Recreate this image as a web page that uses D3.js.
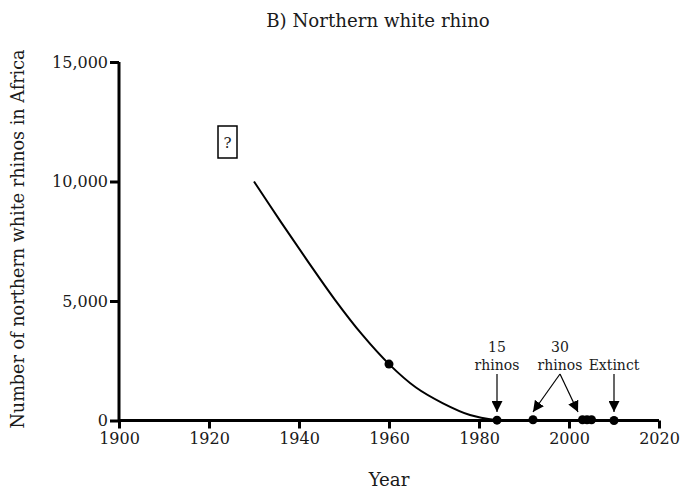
<!DOCTYPE html>
<html>
<head>
<meta charset="utf-8">
<script src="https://cdn.jsdelivr.net/npm/d3@7"></script>
<style>
  body { margin: 0; background: #fff; }
  svg { font-family: "DejaVu Serif", "Liberation Serif", serif; }
</style>
</head>
<body>
<div id="chart"></div>
<script>
// data
var curveYears  = [1930, 1936, 1942, 1948, 1954, 1960, 1966, 1972, 1978, 1984];
var curveValues = [10000, 8300, 6650, 5050, 3600, 2360, 1380, 720, 230, 15];

var dotYears  = [1960, 1984, 1992, 2003, 2004, 2005, 2010];
var dotValues = [2360, 15, 30, 30, 30, 30, 0];

var xTicks = [1900, 1920, 1940, 1960, 1980, 2000, 2020];
var yTicks = [0, 5000, 10000, 15000];

// annotations: label lines, where text sits, arrow targets
var noteLabels = [["15", "rhinos"], ["30", "rhinos"], ["Extinct"]];
var noteYears  = [1984, 1998, 2010];
var noteTargets = [[1984], [1992, 2002], [2010]];

var W = 683, H = 495;
var svg = d3.select("#chart").append("svg")
    .attr("width", W)
    .attr("height", H);

var x = d3.scaleLinear().domain([1900, 2020]).range([119, 659]);
var y = d3.scaleLinear().domain([0, 15000]).range([420.5, 62]);

// arrow head
svg.append("defs").append("marker")
    .attr("id", "head")
    .attr("viewBox", "0 0 10 10")
    .attr("refX", 10).attr("refY", 5)
    .attr("markerWidth", 11).attr("markerHeight", 11)
    .attr("markerUnits", "userSpaceOnUse")
    .attr("orient", "auto")
  .append("path")
    .attr("d", "M0,0L10,5L0,10Z")
    .attr("fill", "#000");

// axes
var xAxis = svg.append("g")
    .attr("transform", "translate(0," + y(0) + ")")
    .call(d3.axisBottom(x).tickValues(xTicks).tickFormat(d3.format("d")).tickSize(8).tickPadding(4));
var yAxis = svg.append("g")
    .attr("transform", "translate(" + x(1900) + ",0)")
    .call(d3.axisLeft(y).tickValues(yTicks).tickFormat(d3.format(",")).tickSize(9).tickPadding(2));

[xAxis, yAxis].forEach(function(g){
  g.select(".domain").attr("stroke-width", 3).attr("stroke", "#000");
  g.selectAll(".tick line").attr("stroke-width", 3).attr("stroke", "#000");
  g.selectAll(".tick text").attr("font-size", 16).attr("fill", "#1a1a1a")
    .attr("font-family", "DejaVu Serif");
});
// drop outer ticks from the domain path
xAxis.select(".domain").attr("d", "M" + x(1900) + ",0H" + x(2020));
yAxis.select(".domain").attr("d", "M0," + y(15000) + "V" + y(0));

// curve
var line = d3.line()
    .x(function(d, i){ return x(curveYears[i]); })
    .y(function(d){ return y(d); })
    .curve(d3.curveCatmullRom.alpha(0.5));
svg.append("path")
    .datum(curveValues)
    .attr("d", line)
    .attr("fill", "none")
    .attr("stroke", "#000")
    .attr("stroke-width", 2);

// dots
svg.selectAll("circle.dot")
    .data(dotYears)
  .enter().append("circle")
    .attr("class", "dot")
    .attr("cx", function(d){ return x(d); })
    .attr("cy", function(d, i){ return y(dotValues[i]); })
    .attr("r", 4.5)
    .attr("fill", "#000");

// annotations
noteLabels.forEach(function(lines, i){
  var cx = x(noteYears[i]);
  var baseY = lines.length == 2 ? 352 : 370;
  lines.forEach(function(t, j){
    svg.append("text")
      .attr("x", cx).attr("y", baseY + j * 18)
      .attr("text-anchor", "middle")
      .attr("font-size", 14)
      .attr("fill", "#1a1a1a")
      .text(t);
  });
  noteTargets[i].forEach(function(ty){
    svg.append("line")
      .attr("x1", cx).attr("y1", 374)
      .attr("x2", x(ty)).attr("y2", 412)
      .attr("stroke", "#000")
      .attr("stroke-width", 1.2)
      .attr("marker-end", "url(#head)");
  });
});

// question mark box
svg.append("rect")
    .attr("x", 218).attr("y", 126)
    .attr("width", 19).attr("height", 32)
    .attr("fill", "none")
    .attr("stroke", "#000")
    .attr("stroke-width", 1.5);
svg.append("text")
    .attr("x", 227.5).attr("y", 148)
    .attr("text-anchor", "middle")
    .attr("font-size", 15)
    .attr("fill", "#1a1a1a")
    .text("?");

// titles
svg.append("text")
    .attr("x", 378).attr("y", 27)
    .attr("text-anchor", "middle")
    .attr("font-size", 18.2)
    .attr("fill", "#1a1a1a")
    .text("B) Northern white rhino");
svg.append("text")
    .attr("x", 389).attr("y", 486)
    .attr("text-anchor", "middle")
    .attr("font-size", 18.2)
    .attr("fill", "#1a1a1a")
    .text("Year");
svg.append("text")
    .attr("transform", "translate(24,239) rotate(-90)")
    .attr("text-anchor", "middle")
    .attr("font-size", 17.6)
    .attr("fill", "#1a1a1a")
    .text("Number of northern white rhinos in Africa");
</script>
</body>
</html>
